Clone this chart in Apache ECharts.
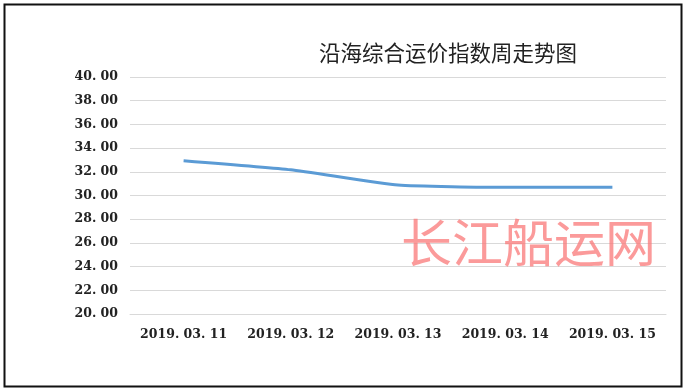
<!DOCTYPE html>
<html><head><meta charset="utf-8">
<script src="https://cdn.jsdelivr.net/npm/echarts@6/dist/echarts.min.js"></script>
<style>html,body{margin:0;padding:0;background:#fff}#c{width:687px;height:392px}</style>
</head><body><div id="c"></div>
<script>
const categories = ['2019.03.11','2019.03.12','2019.03.13','2019.03.14','2019.03.15'];
const indexValues = [32.94, 32.17, 30.88, 30.69, 30.69];
const titleText = '沿海综合运价指数周走势图';
const watermarkText = '长江船运网';

const chart = echarts.init(document.getElementById('c'));
chart.setOption({
  animation: false,
  backgroundColor: '#fff',
  title: {
    text: titleText, left: 443, top: 37, textAlign: 'center',
    textStyle: {fontFamily: 'Noto Sans CJK SC', fontSize: 21.5, fontWeight: 'normal', color: '#222'}
  },
  graphic: [
    {type: 'rect', shape: {x: 4.5, y: 4.5, width: 677, height: 382}, style: {fill: 'none', stroke: '#111', lineWidth: 2}, z: 100},
    {type: 'text', left: 401, top: 217, z: 50,
      style: {text: watermarkText, font: '51px "Noto Sans CJK SC"', fill: 'rgba(250,120,120,0.75)',
        shadowColor: 'rgba(120,120,120,0.35)', shadowBlur: 2, shadowOffsetX: 2, shadowOffsetY: 2}}
  ],
  grid: {left: 130, right: 21, top: 77, bottom: 78},
  xAxis: {
    type: 'category', data: categories, boundaryGap: true,
    axisLine: {show: true, lineStyle: {color: '#d9d9d9', width: 1}},
    axisTick: {show: false},
    axisLabel: {interval: 0, margin: 14, fontFamily: 'DejaVu Serif', fontSize: 12.5, fontWeight: 'bold', color: '#222',
      formatter: v => v.replace(/\./g, '. ')}
  },
  yAxis: {
    type: 'value', min: 20, max: 40, interval: 2,
    axisLine: {show: false}, axisTick: {show: false},
    splitLine: {lineStyle: {color: '#d9d9d9', width: 1}},
    axisLabel: {margin: 12, fontFamily: 'DejaVu Serif', fontSize: 12.5, fontWeight: 'bold', color: '#222',
      formatter: v => v.toFixed(2).replace('.', '. ')}
  },
  series: [{
    type: 'line', data: indexValues, smooth: 0.15, symbol: 'none',
    lineStyle: {color: '#5b9bd5', width: 3}
  }]
});
</script></body></html>
